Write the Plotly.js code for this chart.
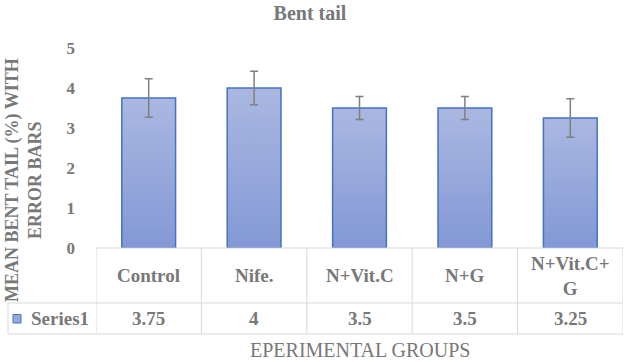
<!DOCTYPE html>
<html>
<head>
<meta charset="utf-8">
<script src="https://cdn.plot.ly/plotly-3.0.1.min.js"></script>
<style>
  html, body { margin: 0; padding: 0; background: #fff; }
  #chart { width: 629px; height: 362px; }
</style>
</head>
<body>
<div id="chart"></div>
<script>
// Bent tail means per experimental group, with error bar half-widths
const categories = ['Control', 'Nife.', 'N+Vit.C', 'N+G', 'N+Vit.C+G'];
const categoryLabels = ['Control', 'Nife.', 'N+Vit.C', 'N+G', 'N+Vit.C+<br>G'];
const meanBentTail = [3.75, 4, 3.5, 3.5, 3.25];
const errorHalf = [0.48, 0.42, 0.29, 0.29, 0.48];
const seriesName = 'Series1';
const yTicks = [0, 1, 2, 3, 4, 5];

const W = 629, H = 362;
const M = { l: 96, r: 6, t: 48, b: 114 };
const plotW = W - M.l - M.r, plotH = H - M.t - M.b;
const TEXT = '#787878';
const GRID = '#d9d9d9';
const SERIF = '"Liberation Serif", "DejaVu Serif", serif';

// pixel helpers for the data table drawn under the plot
const py = p => (M.t + plotH - p) / plotH;   // pixel y -> paper y
const px = p => (p - M.l) / plotW;           // pixel x -> paper x

const rowTop = 248, rowMid = 303, rowBot = 334;
const tableLeft = 8;

const cellFont = { family: SERIF, size: 19, color: TEXT, weight: 'bold' };

const shapes = [];
// horizontal rules of the table
shapes.push({ type: 'line', xref: 'paper', yref: 'paper', x0: 0, x1: 1, y0: py(rowTop), y1: py(rowTop), line: { color: GRID, width: 1 } });
shapes.push({ type: 'line', xref: 'paper', yref: 'paper', x0: px(tableLeft), x1: 1, y0: py(rowMid), y1: py(rowMid), line: { color: GRID, width: 1 } });
shapes.push({ type: 'line', xref: 'paper', yref: 'paper', x0: px(tableLeft), x1: 1, y0: py(rowBot), y1: py(rowBot), line: { color: GRID, width: 1 } });
// vertical rules at the category boundaries
for (let i = 0; i <= categories.length; i++) {
  shapes.push({ type: 'line', xref: 'x', yref: 'paper', x0: i - 0.5, x1: i - 0.5, y0: py(rowTop), y1: py(rowBot), line: { color: GRID, width: 1 } });
}
shapes.push({ type: 'line', xref: 'paper', yref: 'paper', x0: px(tableLeft), x1: px(tableLeft), y0: py(rowMid), y1: py(rowBot), line: { color: GRID, width: 1 } });
// legend key swatch
shapes.push({ type: 'rect', xref: 'paper', yref: 'paper', x0: px(13), x1: px(21), y0: py(323), y1: py(314.5), fillcolor: '#98a9dc', line: { color: '#4472c4', width: 1 } });

const annotations = [];
categories.forEach((c, i) => {
  annotations.push({ x: i, y: py((rowTop + rowMid) / 2), xref: 'x', yref: 'paper', text: categoryLabels[i], showarrow: false, xanchor: 'center', yanchor: 'middle', font: cellFont });
  annotations.push({ x: i, y: py((rowMid + rowBot) / 2), xref: 'x', yref: 'paper', text: String(meanBentTail[i]), showarrow: false, xanchor: 'center', yanchor: 'middle', font: cellFont });
});
annotations.push({ x: px(29), y: py((rowMid + rowBot) / 2), xref: 'paper', yref: 'paper', text: seriesName, showarrow: false, xanchor: 'left', yanchor: 'middle', font: cellFont });
// y-axis title
annotations.push({ x: px(24), y: py(180), xref: 'paper', yref: 'paper', text: 'MEAN BENT TAIL (%) WITH<br>ERROR BARS', textangle: -90, showarrow: false, xanchor: 'center', yanchor: 'middle', font: { family: SERIF, size: 18, color: TEXT, weight: 'bold' } });
// x-axis title
annotations.push({ x: 0.5, y: py(350), xref: 'paper', yref: 'paper', text: 'EPERIMENTAL GROUPS', showarrow: false, xanchor: 'center', yanchor: 'middle', font: { family: SERIF, size: 20, color: TEXT } });

const trace = {
  type: 'bar',
  x: categories,
  y: meanBentTail,
  name: seriesName,
  marker: { color: '#98a9dc', line: { color: '#4472c4', width: 1.5 } },
  error_y: { type: 'data', array: errorHalf, visible: true, color: '#808080', thickness: 1.5, width: 4 },
  hoverinfo: 'none'
};

const layout = {
  width: W, height: H,
  margin: M,
  paper_bgcolor: '#fff', plot_bgcolor: '#fff',
  showlegend: false,
  bargap: 0.49,
  title: { text: 'Bent tail', xref: 'container', x: 310 / W, xanchor: 'center', yref: 'container', y: 1 - 13 / H, yanchor: 'middle', font: { family: SERIF, size: 20, color: TEXT, weight: 'bold' } },
  xaxis: { range: [-0.5, categories.length - 0.5], showticklabels: false, showgrid: false, zeroline: false, showline: false, ticks: '', fixedrange: true },
  yaxis: { range: [0, 5], tickvals: yTicks, showgrid: false, zeroline: false, showline: false, ticks: '', ticklabelstandoff: 20, tickfont: { family: SERIF, size: 17, color: TEXT, weight: 'bold' }, fixedrange: true },
  shapes, annotations
};

Plotly.newPlot('chart', [trace], layout, { staticPlot: true, displayModeBar: false }).then(gd => {
  // vertical gradient fill for each bar, lighter at the top
  const svg = gd.querySelector('svg.main-svg');
  const ns = 'http://www.w3.org/2000/svg';
  let defs = svg.querySelector('defs');
  if (!defs) { defs = document.createElementNS(ns, 'defs'); svg.insertBefore(defs, svg.firstChild); }
  const grad = document.createElementNS(ns, 'linearGradient');
  grad.setAttribute('id', 'barGradient');
  grad.setAttribute('x1', '0'); grad.setAttribute('y1', '0');
  grad.setAttribute('x2', '0'); grad.setAttribute('y2', '1');
  [['0%', '#aab8e1'], ['100%', '#8398d5']].forEach(([o, c]) => {
    const s = document.createElementNS(ns, 'stop');
    s.setAttribute('offset', o); s.setAttribute('stop-color', c);
    grad.appendChild(s);
  });
  defs.appendChild(grad);
  gd.querySelectorAll('.trace.bars .point path').forEach(p => { p.style.fill = 'url(#barGradient)'; });
});
</script>
</body>
</html>
